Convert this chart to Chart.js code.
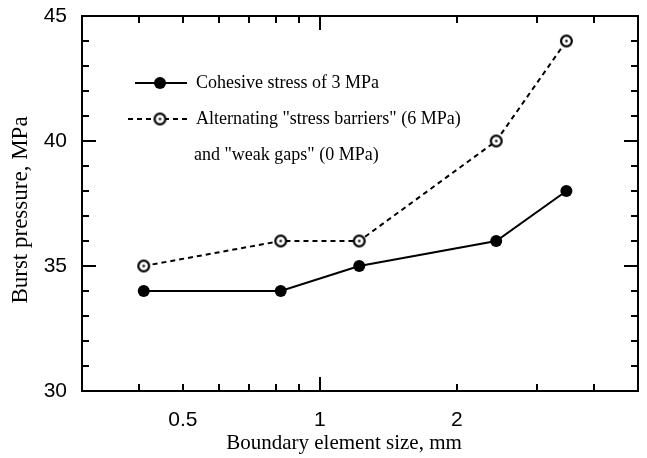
<!DOCTYPE html>
<html>
<head>
<meta charset="utf-8">
<script src="https://cdn.jsdelivr.net/npm/chart.js@4.4.1/dist/chart.umd.min.js"></script>
<style>
  html, body { margin: 0; padding: 0; background: #fff; }
  #wrap { width: 647px; height: 458px; }
</style>
</head>
<body>
<div id="wrap"><canvas id="chart" width="647" height="458"></canvas></div>
<script>
// values
const elementSize = [0.41, 0.82, 1.22, 2.44, 3.48]
const cohesive = [34, 34, 35, 36, 38]
const barriers = [35, 36, 36, 40, 44]

const xTickLabels = [0.5, 1, 2]
const xTickMarks = [0.4, 0.5, 0.6, 0.7, 0.8, 0.9, 1, 2, 3, 4]
const xMajor = [1]
const yTickLabels = [30, 35, 40, 45]

const seriesNames = [
  ['Cohesive stress of 3 MPa'],
  ['Alternating "stress barriers" (6 MPa)', 'and "weak gaps" (0 MPa)']
]
const xTitle = 'Boundary element size, mm'
const yTitle = 'Burst pressure, MPa'

const SANS = '"Liberation Sans", Arial, sans-serif'
const SERIF = '"Liberation Serif", "Times New Roman", serif'

// open circle with a dot in the middle
const ring = document.createElement('canvas')
ring.width = 15
ring.height = 15
{
  const r = ring.getContext('2d')
  r.fillStyle = '#fff'
  r.beginPath(); r.arc(7.5, 7.5, 5.5, 0, Math.PI * 2); r.fill()
  r.strokeStyle = '#000'
  r.lineWidth = 2.2
  r.beginPath(); r.arc(7.5, 7.5, 5.4, 0, Math.PI * 2); r.stroke()
  r.fillStyle = '#000'
  r.beginPath(); r.arc(7.5, 7.5, 1.3, 0, Math.PI * 2); r.fill()
}

const toPoints = (ys) => elementSize.map((x, i) => ({ x, y: ys[i] }))

const frame = {
  id: 'frame',
  afterDraw (chart) {
    const { ctx, chartArea: a, scales: { x, y } } = chart
    ctx.save()
    ctx.strokeStyle = '#000'
    ctx.lineWidth = 2
    ctx.strokeRect(a.left, a.top, a.right - a.left, a.bottom - a.top)

    ctx.beginPath()
    for (let v = 31; v < 45; v++) {
      const py = Math.round(y.getPixelForValue(v))
      const len = v % 5 === 0 ? 14 : 7
      ctx.moveTo(a.left, py); ctx.lineTo(a.left + len, py)
      ctx.moveTo(a.right, py); ctx.lineTo(a.right - len, py)
    }
    xTickMarks.forEach(v => {
      const px = Math.round(x.getPixelForValue(v))
      const len = xMajor.includes(v) ? 14 : 7
      ctx.moveTo(px, a.bottom); ctx.lineTo(px, a.bottom - len)
      ctx.moveTo(px, a.top); ctx.lineTo(px, a.top + len)
    })
    ctx.stroke()

    // axis titles
    ctx.fillStyle = '#000'
    ctx.textAlign = 'center'
    ctx.textBaseline = 'middle'
    ctx.font = '21px ' + SERIF
    ctx.fillText(xTitle, 344, 443)
    ctx.save()
    ctx.translate(21, 210)
    ctx.rotate(-Math.PI / 2)
    ctx.font = '23px ' + SERIF
    ctx.fillText(yTitle, 0, 0)
    ctx.restore()

    // legend
    ctx.font = '18px ' + SERIF
    ctx.textAlign = 'left'
    ctx.lineWidth = 2
    ctx.beginPath(); ctx.moveTo(135, 83); ctx.lineTo(187, 83); ctx.stroke()
    ctx.beginPath(); ctx.arc(160, 83, 6, 0, Math.PI * 2); ctx.fill()
    ctx.fillText(seriesNames[0][0], 196, 83)

    ctx.setLineDash([5, 4])
    ctx.beginPath(); ctx.moveTo(128, 119); ctx.lineTo(187, 119); ctx.stroke()
    ctx.setLineDash([])
    ctx.drawImage(ring, 160 - 7.5, 119 - 7.5)
    ctx.fillText(seriesNames[1][0], 196, 119)
    ctx.fillText(seriesNames[1][1], 194, 155)
    ctx.restore()
  }
}

new Chart(document.getElementById('chart'), {
  type: 'line',
  data: {
    datasets: [
      {
        label: seriesNames[0].join(' '),
        data: toPoints(cohesive),
        borderColor: '#000',
        borderWidth: 2,
        pointRadius: 6,
        pointBorderWidth: 0,
        pointBackgroundColor: '#000',
        pointBorderColor: '#000'
      },
      {
        label: seriesNames[1].join(' '),
        data: toPoints(barriers),
        borderColor: '#000',
        borderWidth: 2,
        borderDash: [5, 4],
        pointStyle: ring,
        pointRadius: 7
      }
    ]
  },
  options: {
    responsive: false,
    animation: false,
    layout: { padding: { top: 16, right: 6, left: 0, bottom: 0 } },
    plugins: { legend: { display: false }, tooltip: { enabled: false } },
    scales: {
      x: {
        type: 'logarithmic',
        min: 0.3,
        max: 5,
        afterBuildTicks: (s) => { s.ticks = xTickLabels.map(value => ({ value })) },
        afterFit: (s) => {
          s.height = 67
          s.paddingLeft = 0
          s.paddingRight = 0
        },
        grid: { display: false, drawTicks: false },
        border: { display: false },
        ticks: {
          autoSkip: false,
          maxRotation: 0,
          padding: 17,
          color: '#000',
          font: { family: SANS, size: 21 },
          callback: (v) => String(v)
        }
      },
      y: {
        min: 30,
        max: 45,
        afterBuildTicks: (s) => { s.ticks = yTickLabels.map(value => ({ value })) },
        afterFit: (s) => {
          s.width = 82
          s.paddingTop = 0
          s.paddingBottom = 0
        },
        grid: { display: false, drawTicks: false },
        border: { display: false },
        ticks: {
          padding: 15,
          color: '#000',
          font: { family: SANS, size: 21 },
          callback: (v) => String(v)
        }
      }
    }
  },
  plugins: [frame]
})
</script>
</body>
</html>
